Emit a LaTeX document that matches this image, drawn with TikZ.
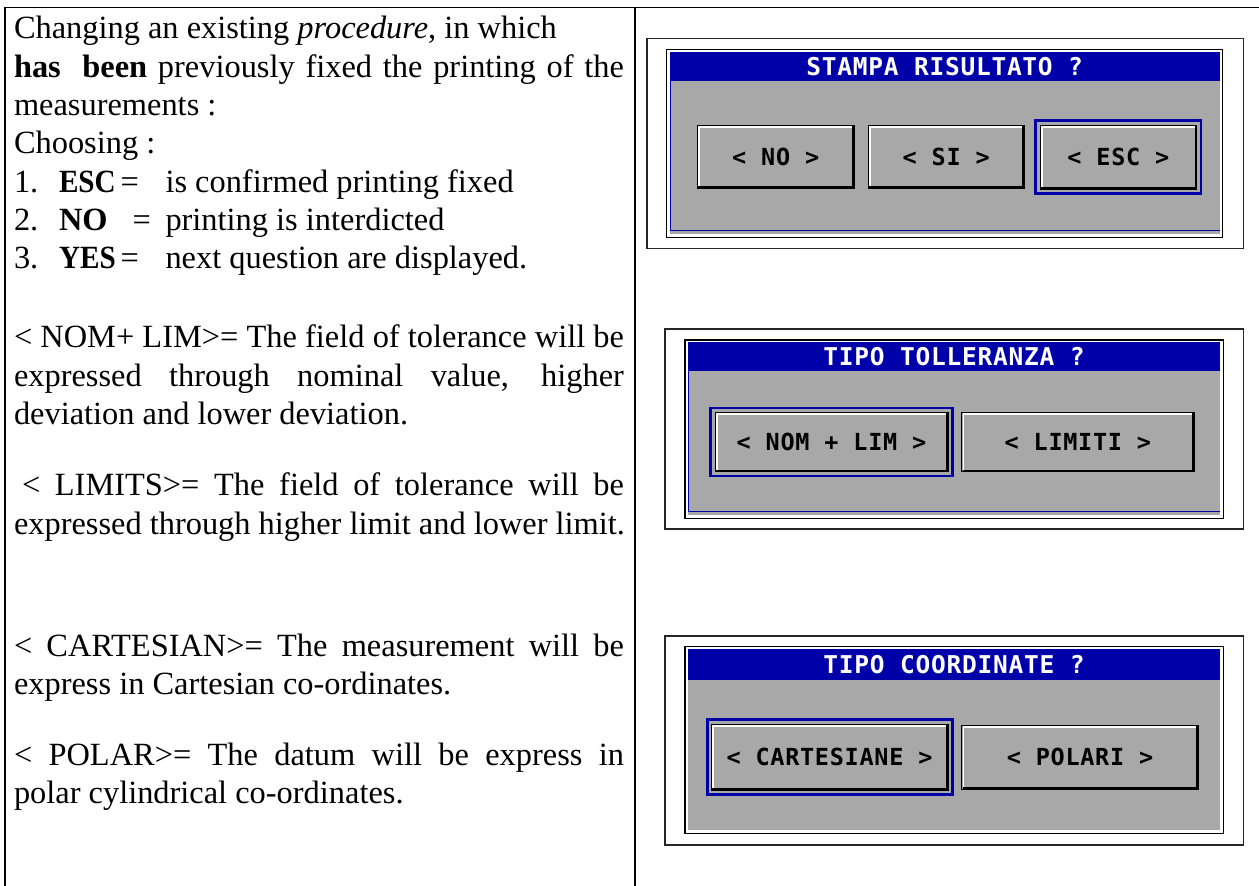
\documentclass[tikz,border=0pt]{standalone}
\usepackage{graphicx}
\usepackage{fontspec}
\setmainfont{Liberation Serif}
\newfontfamily\pixfont[LetterSpace=3]{DejaVu Sans Mono}
\definecolor{uiblue}{HTML}{0000A8}
\definecolor{uigray}{HTML}{A8A8A8}
\tikzset{
  tline/.style={line width=1.1pt, black},
  lt/.style={anchor=base west, inner sep=0pt, outer sep=0pt, font=\fontsize{32.4}{38}\selectfont},
  ttl/.style={inner sep=0pt, text=white, font=\pixfont\bfseries\fontsize{24.5}{24.5}\selectfont},
  btxt/.style={inner sep=0pt, text=black, font=\pixfont\bfseries\fontsize{23.5}{23.5}\selectfont},
  dlgframe/.style={draw=black!85, line width=1.6pt},
  winframe/.style={draw=black, line width=1.2pt, fill=white},
  selframe/.style={draw=uiblue, line width=2.6pt},
}
\newcommand\uibutton[6]{%
  \fill[uigray] (#1,#2) rectangle (#3,#4);
  \draw[white, line width=1.6pt] ({#1+1.8},{#4-2}) -- ({#1+1.8},{#2+1.8}) -- ({#3-2},{#2+1.8});
  \draw[black, line width=1pt] (#1,#2) rectangle (#3,#4);
  \draw[black, line width=2.2pt] ({#1+1},{#4-1.1}) -- ({#3-1.1},{#4-1.1}) -- ({#3-1.1},{#2+1});
  \node[btxt] (#5) at ({(#1+#3)/2},{(#2+#4)/2}) {#6};
}
\begin{document}
\begin{tikzpicture}[x=1pt,y=-1pt]
\useasboundingbox (0,0) rectangle (1259,886);
% table lines
\draw[tline] (5,7.3) -- (1259,7.3);
\draw[tline] (5,7.3) -- (5,886);
\draw[tline] (635,7.3) -- (635,886);

% left column text
\node[lt] (p1a) at (14,38.3) {Changing an existing \textit{procedure}, in which};
\node[lt] (p1b) at (14,77.3) {\makebox[610pt][s]{\textbf{has}\ \ \textbf{been} previously fixed the printing of the}};
\node[lt] (p1c) at (14,115) {measurements :};
\node[lt] (p1d) at (14,153) {Choosing :};
\node[lt] (n1) at (14,192.5) {1.};
\node[lt] (k1) at (59,192.5) {\scalebox{0.9}[1]{\textbf{ESC}}};
\node[lt] (e1) at (120.7,192.5) {=};
\node[lt] (d1) at (165.5,192.5) {is confirmed printing fixed};
\node[lt] (n2) at (14,230.5) {2.};
\node[lt] (k2) at (59,230.5) {\textbf{NO}};
\node[lt] (e2) at (132.7,230.5) {=};
\node[lt] (d2) at (165.5,230.5) {printing is interdicted};
\node[lt] (n3) at (14,268.3) {3.};
\node[lt] (k3) at (59,268.3) {\scalebox{0.9}[1]{\textbf{YES}}};
\node[lt] (e3) at (120.7,268.3) {=};
\node[lt] (d3) at (165.5,268.3) {next question are displayed.};

\node[lt] (q1) at (14,347.5) {\makebox[610pt][s]{< NOM+ LIM>= The field of tolerance will be}};
\node[lt] (q2) at (14,386) {\makebox[610pt][s]{expressed through nominal value, higher}};
\node[lt] (q3) at (14,424) {deviation and lower deviation.};
\node[lt] (r1) at (22,495) {\makebox[602pt][s]{< LIMITS>= The field of tolerance will be}};
\node[lt] (r2) at (14,534) {expressed through higher limit and lower limit.};
\node[lt] (s1) at (14,656) {\makebox[610pt][s]{< CARTESIAN>= The measurement will be}};
\node[lt] (s2) at (14,694) {express in Cartesian co-ordinates.};
\node[lt] (u1) at (14,765) {\makebox[610pt][s]{< POLAR>= The datum will be express in}};
\node[lt] (u2) at (14,803) {polar cylindrical co-ordinates.};

% dialog 1
\draw[dlgframe] (646.7,38.3) rectangle (1243.3,248.3);
\draw[winframe] (666.7,49.3) rectangle (1222.7,237.3);
\fill[uigray] (670,51.7) rectangle (1219.5,233.5);
\fill[uiblue] (670,51.7) rectangle (1219.5,81);
\draw[uiblue, line width=1pt] (670.5,81) -- (670.5,230.5) -- (1219.5,230.5);
\node[ttl] (t1) at (944.7,66.5) {STAMPA RISULTATO ?};
\uibutton{697.3}{125}{854}{188.3}{bno}{< NO >}
\uibutton{868.3}{125}{1024}{188.3}{bsi}{< SI >}
\draw[selframe] (1035.3,120.6) rectangle (1201,193.7);
\uibutton{1040}{125}{1196.7}{189.3}{besc}{< ESC >}

% dialog 2
\draw[dlgframe] (665,329) rectangle (1243.3,529);
\draw[winframe] (685,340) rectangle (1223.3,518.3);
\fill[uigray] (688,342.3) rectangle (1220,515);
\fill[uiblue] (688,342.3) rectangle (1220,371);
\draw[uiblue, line width=1pt] (688.5,371) -- (688.5,511) -- (1220,511);
\node[ttl] (t2) at (954,356.7) {TIPO TOLLERANZA ?};
\draw[selframe] (710.6,408) rectangle (952.7,476);
\uibutton{715}{412.3}{948}{471.7}{bnom}{< NOM + LIM >}
\uibutton{961.7}{412.3}{1194}{471.7}{blim}{< LIMITI >}

% dialog 3
\draw[dlgframe] (665,636) rectangle (1243.3,845);
\draw[winframe] (685,646.7) rectangle (1223.3,833.3);
\fill[uigray] (688,649) rectangle (1220,830);
\fill[uiblue] (688,649) rectangle (1220,680);
\node[ttl] (t3) at (954,665) {TIPO COORDINATE ?};
\draw[selframe] (707.3,719.6) rectangle (952.7,794.7);
\uibutton{711}{724.3}{948}{790}{bcart}{< CARTESIANE >}
\uibutton{961.7}{725}{1198.3}{789.3}{bpol}{< POLARI >}
\end{tikzpicture}
\end{document}
